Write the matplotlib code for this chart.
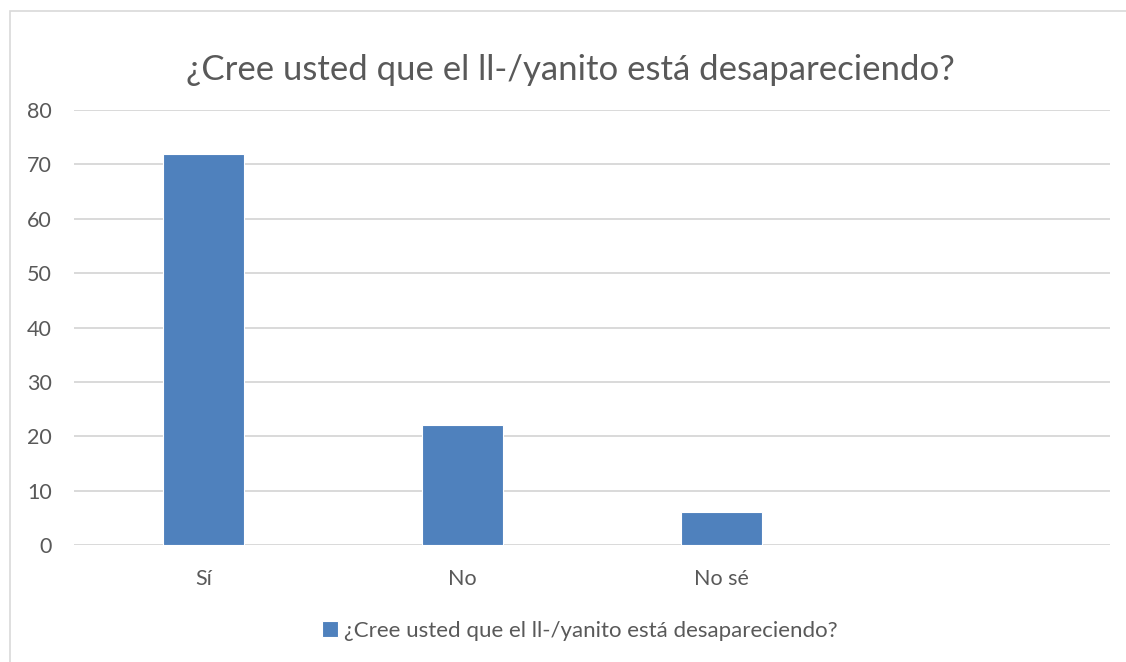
import numpy as np
import matplotlib.pyplot as plt
from matplotlib.patches import Rectangle

# data
categories = ["Sí", "No", "No sé", ""]
values = [72, 22, 6, 0]
series_name = "¿Cree usted que el ll-/yanito está desapareciendo?"
yticks = [0, 10, 20, 30, 40, 50, 60, 70, 80]

plt.rcParams['font.family'] = ['Lato', 'DejaVu Sans']
txt = '#595959'
blue = '#4f81bd'

fig = plt.figure(figsize=(11.26, 6.62), dpi=100)
ax = fig.add_axes([74 / 1126, 117 / 662, 1036 / 1126, 435 / 662])

x = np.arange(len(categories))
ax.bar(x[:3], values[:3], width=0.31, color=blue, edgecolor='white',
       linewidth=0.8, label=series_name, zorder=3)

ax.set_xlim(-0.5, len(categories) - 0.5)
ax.set_ylim(0, 80)
ax.set_yticks(yticks)
ax.set_xticks(x[:3])
ax.set_xticklabels(categories[:3])
ax.tick_params(axis='both', length=0, colors=txt, labelsize=15.5)
ax.tick_params(axis='x', pad=17)
ax.tick_params(axis='y', pad=16)
ax.grid(axis='y', color='#d9d9d9', linewidth=1.4, zorder=0)
for s in ax.spines.values():
    s.set_visible(False)

fig.text(570 / 1126, 1 - 70 / 662, series_name, ha='center', va='center',
         fontsize=25, color=txt)

leg = fig.legend(loc='center', bbox_to_anchor=(580 / 1126, 1 - 631 / 662),
                 frameon=False, fontsize=16, handlelength=0.7, handleheight=0.7,
                 handletextpad=0.3, labelcolor=txt)

# chart border
fig.patches.append(Rectangle((10 / 1126, -0.1), 1.2, 1.1 - 11 / 662,
                             transform=fig.transFigure, fill=False,
                             edgecolor='#d9d9d9', linewidth=1.2))

fig.savefig('out.png', dpi=100)
